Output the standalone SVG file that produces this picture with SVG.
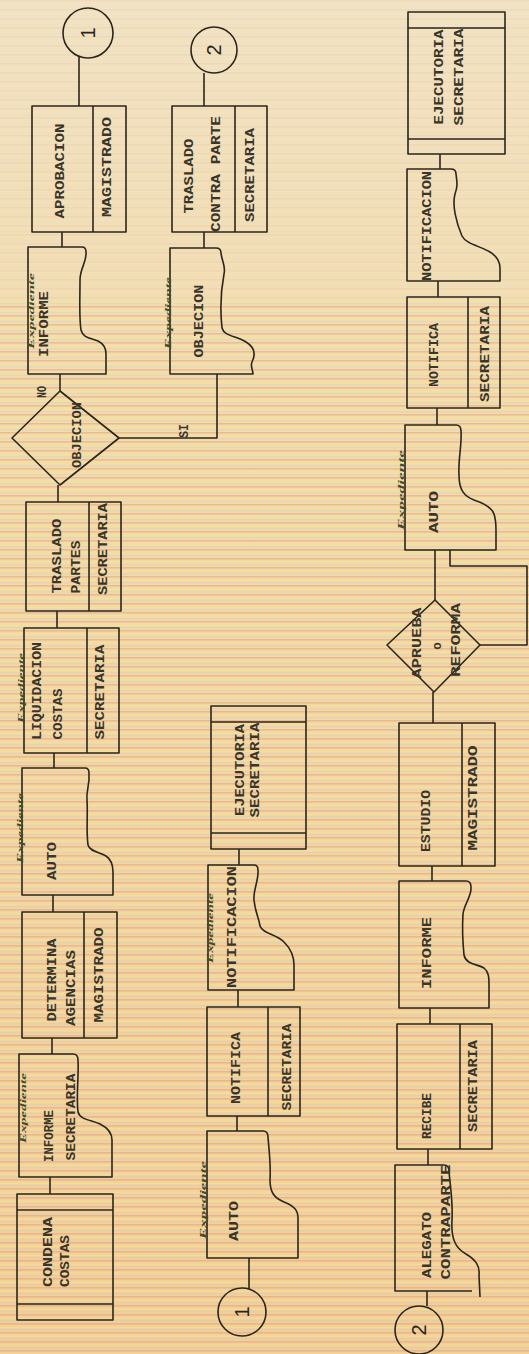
<svg xmlns="http://www.w3.org/2000/svg" width="529" height="1354" viewBox="0 0 529 1354">
<defs>
<linearGradient id="bg" x1="0" y1="0" x2="0" y2="1">
<stop offset="0" stop-color="#f1e3c6"/>
<stop offset="0.3" stop-color="#f2dcb0"/>
<stop offset="1" stop-color="#f1cf9c"/>
</linearGradient>
<pattern id="st" width="529" height="9" patternUnits="userSpaceOnUse">
<rect y="0" width="529" height="1.6" fill="#e8936a" opacity="0.5"/>
<rect y="3.5" width="529" height="1.4" fill="#f6e67e" opacity="0.55"/>
<rect y="6.3" width="529" height="1.1" fill="#b9c2c8" opacity="0.35"/>
</pattern>
<style>
.ln{stroke:#2b261c;stroke-width:1.6;fill:none;stroke-linejoin:round}
.t{font-family:"Liberation Mono","DejaVu Sans Mono",monospace;font-size:12.5px;font-weight:bold;fill:#3a3528;text-anchor:middle;dominant-baseline:central}
.s{font-family:"Liberation Serif","DejaVu Serif",serif;font-style:italic;font-weight:bold;font-size:9px;fill:#3e4a28;text-anchor:middle;dominant-baseline:central}
.n{font-family:"Liberation Sans","DejaVu Sans",sans-serif;font-size:20px;fill:#2b261c;text-anchor:middle;dominant-baseline:central}
</style>
</defs>
<rect width="529" height="1354" fill="url(#bg)"/>
<rect y="0" width="529" height="300" fill="url(#st)" opacity="0.25"/>
<rect y="300" width="529" height="1054" fill="url(#st)" opacity="0.9"/>

<g id="connectors" class="ln">
<path d="M79,56 V106"/>
<path d="M62,232 V247"/>
<path d="M60,374 V391"/>
<path d="M58,485 V502"/>
<path d="M57,611 V628"/>
<path d="M54,753 V768"/>
<path d="M53,895 V912"/>
<path d="M52,1038 V1054"/>
<path d="M50,1177 V1194"/>
<path d="M119,438 H217 V374"/>
<path d="M204,73 V106"/>
<path d="M204,232 V248"/>
<path d="M239,849 V865"/>
<path d="M238,990 V1007"/>
<path d="M237,1116 V1131"/>
<path d="M249,1258 V1289"/>
<path d="M440,154 V169"/>
<path d="M438,281 V297"/>
<path d="M437,408 V425"/>
<path d="M435,550 V600"/>
<path d="M480,645 H527 V566 H450 V550"/>
<path d="M433,692 V723"/>
<path d="M432,866 V881"/>
<path d="M430,1008 V1024"/>
<path d="M428,1149 V1165"/>
<path d="M427,1291 V1306"/>
<text class="t" transform="translate(43,392) rotate(-90)" textLength="12" lengthAdjust="spacingAndGlyphs" style="stroke:none">NO</text>
<text class="t" transform="translate(185,431) rotate(-90)" textLength="14" lengthAdjust="spacingAndGlyphs" style="stroke:none">SI</text>
</g>

<g id="conector-1-top">
<circle class="ln" cx="88" cy="33" r="25"/>
<text class="n" transform="translate(88,33) rotate(-90)">1</text>
</g>
<g id="aprobacion">
<rect class="ln" x="32" y="106" width="94" height="126"/>
<path class="ln" d="M93,106 V232"/>
<text class="t" transform="translate(61,171) rotate(-90)" textLength="95" lengthAdjust="spacingAndGlyphs">APROBACION</text>
<text class="t" transform="translate(108,167) rotate(-90)" textLength="100" lengthAdjust="spacingAndGlyphs">MAGISTRADO</text>
</g>
<g id="informe-1">
<path class="ln" d="M28,374 V247 H82 Q86,247 86,252 C87,262 80,268 80,280 C80,300 79,318 81,330 C83,338 90,338 98,341 C104,344 106,348 106,354 V374 Z"/>
<text class="s" transform="translate(31,311) rotate(-90)" textLength="76" lengthAdjust="spacingAndGlyphs">Expediente</text>
<text class="t" transform="translate(45,324) rotate(-90)" textLength="66" lengthAdjust="spacingAndGlyphs">INFORME</text>
</g>
<g id="objecion-decision">
<polygon class="ln" points="60,391 119,438 60,485 12,438"/>
<text class="t" transform="translate(78,435) rotate(-90)" textLength="66" lengthAdjust="spacingAndGlyphs">OBJECION</text>
</g>
<g id="traslado-partes">
<rect class="ln" x="26" y="502" width="95" height="109"/>
<path class="ln" d="M89,502 V611"/>
<text class="t" transform="translate(58,556) rotate(-90)" textLength="75" lengthAdjust="spacingAndGlyphs">TRASLADO</text>
<text class="t" transform="translate(77,567) rotate(-90)" textLength="53" lengthAdjust="spacingAndGlyphs">PARTES</text>
<text class="t" transform="translate(104,549) rotate(-90)" textLength="92" lengthAdjust="spacingAndGlyphs">SECRETARIA</text>
</g>
<g id="liquidacion-costas">
<rect class="ln" x="24" y="628" width="95" height="125"/>
<path class="ln" d="M87,628 V753"/>
<text class="s" transform="translate(21,688) rotate(-90)" textLength="70" lengthAdjust="spacingAndGlyphs">Expediente</text>
<text class="t" transform="translate(38,691) rotate(-90)" textLength="98" lengthAdjust="spacingAndGlyphs">LIQUIDACION</text>
<text class="t" transform="translate(59,714) rotate(-90)" textLength="51" lengthAdjust="spacingAndGlyphs">COSTAS</text>
<text class="t" transform="translate(101,692) rotate(-90)" textLength="95" lengthAdjust="spacingAndGlyphs">SECRETARIA</text>
</g>
<g id="auto-1">
<path class="ln" d="M22,895 V768 H85 Q89,768 89,773 C90,785 86,790 87,800 C88,815 86,830 88,845 C90,852 100,852 106,856 C112,860 113,866 113,872 V895 Z"/>
<text class="s" transform="translate(20,828) rotate(-90)" textLength="70" lengthAdjust="spacingAndGlyphs">Expediente</text>
<text class="t" transform="translate(53,861) rotate(-90)" textLength="38" lengthAdjust="spacingAndGlyphs">AUTO</text>
</g>
<g id="determina-agencias">
<rect class="ln" x="22" y="912" width="95" height="126"/>
<path class="ln" d="M84,912 V1038"/>
<text class="t" transform="translate(53,980) rotate(-90)" textLength="83" lengthAdjust="spacingAndGlyphs">DETERMINA</text>
<text class="t" transform="translate(72,988) rotate(-90)" textLength="76" lengthAdjust="spacingAndGlyphs">AGENCIAS</text>
<text class="t" transform="translate(100,975) rotate(-90)" textLength="95" lengthAdjust="spacingAndGlyphs">MAGISTRADO</text>
</g>
<g id="informe-secretaria">
<path class="ln" d="M19,1177 V1054 H73 Q78,1054 78,1060 C79,1075 76,1095 78,1112 C80,1120 92,1120 100,1124 C108,1128 112,1133 112,1140 V1177 Z"/>
<text class="s" transform="translate(23,1108) rotate(-90)" textLength="70" lengthAdjust="spacingAndGlyphs">Expediente</text>
<text class="t" transform="translate(50,1136) rotate(-90)" textLength="52" lengthAdjust="spacingAndGlyphs">INFORME</text>
<text class="t" transform="translate(72,1117) rotate(-90)" textLength="87" lengthAdjust="spacingAndGlyphs">SECRETARIA</text>
</g>
<g id="condena-costas">
<rect class="ln" x="17" y="1194" width="96" height="126"/>
<path class="ln" d="M17,1210 H113 M17,1304 H113"/>
<text class="t" transform="translate(49,1252) rotate(-90)" textLength="70" lengthAdjust="spacingAndGlyphs">CONDENA</text>
<text class="t" transform="translate(66,1261) rotate(-90)" textLength="52" lengthAdjust="spacingAndGlyphs">COSTAS</text>
</g>

<g id="conector-2-top">
<circle class="ln" cx="214" cy="50" r="23"/>
<text class="n" transform="translate(214,50) rotate(-90)">2</text>
</g>
<g id="traslado-contraparte">
<rect class="ln" x="172" y="106" width="95" height="126"/>
<path class="ln" d="M235,106 V232"/>
<text class="t" transform="translate(190,176) rotate(-90)" textLength="75" lengthAdjust="spacingAndGlyphs">TRASLADO</text>
<text class="t" transform="translate(217,174) rotate(-90)" textLength="116" lengthAdjust="spacingAndGlyphs">CONTRA PARTE</text>
<text class="t" transform="translate(251,175) rotate(-90)" textLength="94" lengthAdjust="spacingAndGlyphs">SECRETARIA</text>
</g>
<g id="objecion-doc">
<path class="ln" d="M170,374 V248 H216 Q221,248 221,253 C222,262 226,266 224,274 C221,290 220,310 222,328 C224,336 236,336 246,342 C256,348 255,356 252,362 C250,366 253,370 253,374 Z"/>
<text class="s" transform="translate(168,313) rotate(-90)" textLength="72" lengthAdjust="spacingAndGlyphs">Expediente</text>
<text class="t" transform="translate(200,321) rotate(-90)" textLength="73" lengthAdjust="spacingAndGlyphs">OBJECION</text>
</g>
<g id="ejecutoria-2">
<rect class="ln" x="211" y="706" width="95" height="143"/>
<path class="ln" d="M211,722 H306 M211,833 H306"/>
<text class="t" transform="translate(241,770) rotate(-90)" textLength="92" lengthAdjust="spacingAndGlyphs">EJECUTORIA</text>
<text class="t" transform="translate(256,770) rotate(-90)" textLength="95" lengthAdjust="spacingAndGlyphs">SECRETARIA</text>
</g>
<g id="notificacion-2">
<path class="ln" d="M208,990 V865 H254 Q258,865 258,870 C259,880 253,890 254,900 C255,912 259,918 260,926 C263,934 276,934 284,942 C292,950 294,958 294,965 V990 Z"/>
<text class="s" transform="translate(210,928) rotate(-90)" textLength="70" lengthAdjust="spacingAndGlyphs">Expediente</text>
<text class="t" transform="translate(233,927) rotate(-90)" textLength="122" lengthAdjust="spacingAndGlyphs">NOTIFICACION</text>
</g>
<g id="notifica-2">
<rect class="ln" x="207" y="1007" width="93" height="109"/>
<path class="ln" d="M268,1007 V1116"/>
<text class="t" transform="translate(237,1068) rotate(-90)" textLength="72" lengthAdjust="spacingAndGlyphs">NOTIFICA</text>
<text class="t" transform="translate(288,1067) rotate(-90)" textLength="87" lengthAdjust="spacingAndGlyphs">SECRETARIA</text>
</g>
<g id="auto-2">
<path class="ln" d="M207,1258 V1131 H263 Q268,1131 268,1137 C269,1150 271,1165 270,1180 C270,1192 274,1198 284,1202 C294,1206 298,1210 298,1218 V1258 Z"/>
<text class="s" transform="translate(203,1200) rotate(-90)" textLength="78" lengthAdjust="spacingAndGlyphs">Expediente</text>
<text class="t" transform="translate(235,1221) rotate(-90)" textLength="40" lengthAdjust="spacingAndGlyphs">AUTO</text>
</g>
<g id="conector-1-bottom">
<circle class="ln" cx="242" cy="1312" r="24"/>
<text class="n" transform="translate(242,1312) rotate(-90)">1</text>
</g>

<g id="ejecutoria-3">
<rect class="ln" x="408" y="12" width="97" height="142"/>
<path class="ln" d="M408,28 H505 M408,139 H505"/>
<text class="t" transform="translate(440,77) rotate(-90)" textLength="95" lengthAdjust="spacingAndGlyphs">EJECUTORIA</text>
<text class="t" transform="translate(460,77) rotate(-90)" textLength="97" lengthAdjust="spacingAndGlyphs">SECRETARIA</text>
</g>
<g id="notificacion-3">
<path class="ln" d="M407,281 V169 H451 Q456,169 456,174 C457,182 458,186 455,194 C452,205 456,222 462,236 C466,244 480,246 490,252 C498,257 500,262 500,268 V281 Z"/>
<text class="t" transform="translate(428,226) rotate(-90)" textLength="110" lengthAdjust="spacingAndGlyphs">NOTIFICACION</text>
</g>
<g id="notifica-3">
<rect class="ln" x="407" y="297" width="93" height="111"/>
<path class="ln" d="M468,297 V408"/>
<text class="t" transform="translate(435,355) rotate(-90)" textLength="64" lengthAdjust="spacingAndGlyphs">NOTIFICA</text>
<text class="t" transform="translate(486,354) rotate(-90)" textLength="96" lengthAdjust="spacingAndGlyphs">SECRETARIA</text>
</g>
<g id="auto-3">
<path class="ln" d="M405,550 V425 H456 Q461,425 461,431 C462,445 458,460 459,475 C459,490 464,496 474,500 C486,504 492,508 494,514 C496,520 496,526 496,530 V550 Z"/>
<text class="s" transform="translate(401,490) rotate(-90)" textLength="80" lengthAdjust="spacingAndGlyphs">Expediente</text>
<text class="t" transform="translate(435,512) rotate(-90)" textLength="42" lengthAdjust="spacingAndGlyphs">AUTO</text>
</g>
<g id="aprueba-reforma">
<polygon class="ln" points="435,600 480,645 434,692 387,645"/>
<text class="t" transform="translate(418,643) rotate(-90)" textLength="71" lengthAdjust="spacingAndGlyphs">APRUEBA</text>
<text class="t" transform="translate(438,646) rotate(-90)">o</text>
<text class="t" transform="translate(457,640) rotate(-90)" textLength="74" lengthAdjust="spacingAndGlyphs">REFORMA</text>
</g>
<g id="estudio">
<rect class="ln" x="399" y="723" width="96" height="143"/>
<path class="ln" d="M462,723 V866"/>
<text class="t" transform="translate(427,821) rotate(-90)" textLength="62" lengthAdjust="spacingAndGlyphs">ESTUDIO</text>
<text class="t" transform="translate(474,798) rotate(-90)" textLength="105" lengthAdjust="spacingAndGlyphs">MAGISTRADO</text>
</g>
<g id="informe-3">
<path class="ln" d="M399,1008 V881 H466 Q471,881 471,887 C472,896 464,904 463,914 C462,930 463,945 464,955 C466,965 478,964 484,968 C489,972 489,978 489,984 V1008 Z"/>
<text class="t" transform="translate(428,953) rotate(-90)" textLength="72" lengthAdjust="spacingAndGlyphs">INFORME</text>
</g>
<g id="recibe">
<rect class="ln" x="397" y="1024" width="95" height="125"/>
<path class="ln" d="M460,1024 V1149"/>
<text class="t" transform="translate(428,1116) rotate(-90)" textLength="46" lengthAdjust="spacingAndGlyphs">RECIBE</text>
<text class="t" transform="translate(474,1086) rotate(-90)" textLength="92" lengthAdjust="spacingAndGlyphs">SECRETARIA</text>
</g>
<g id="alegato-contraparte">
<path class="ln" d="M472,1291 H395 V1165 H444 Q449,1165 449,1171 C450,1185 453,1200 452,1220 C451,1238 455,1248 466,1254 C476,1260 480,1266 479,1275 L480,1297"/>
<text class="t" transform="translate(428,1245) rotate(-90)" textLength="66" lengthAdjust="spacingAndGlyphs">ALEGATO</text>
<text class="t" transform="translate(447,1222) rotate(-90)" textLength="115" lengthAdjust="spacingAndGlyphs">CONTRAPARTE</text>
</g>
<g id="conector-2-bottom">
<circle class="ln" cx="419" cy="1330" r="24"/>
<text class="n" transform="translate(419,1330) rotate(-90)">2</text>
</g>
</svg>
